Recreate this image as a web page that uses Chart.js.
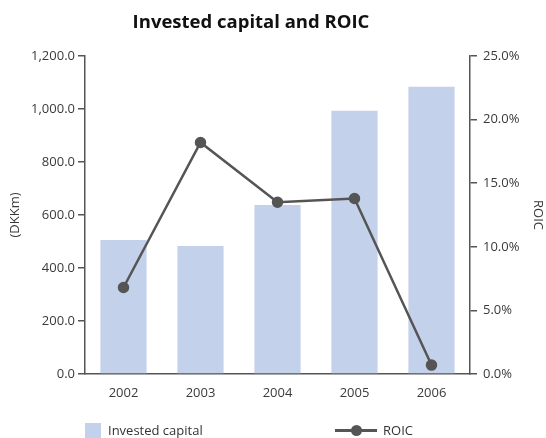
<!DOCTYPE html>
<html>
<head>
<meta charset="utf-8">
<script src="https://cdn.jsdelivr.net/npm/chart.js@4/dist/chart.umd.min.js"></script>
<style>
  html, body { margin: 0; padding: 0; background: #fff; }
  #wrap { position: relative; width: 546px; height: 438px; overflow: hidden; }
  #title { position: absolute; left: 0; top: 8px; width: 502px; text-align: center;
           font-family: "Open Sans", sans-serif; font-size: 18.5px; font-weight: bold; color: #111; }
  #legend { position: absolute; left: 0; top: 423px; width: 546px; height: 15px;
            font-family: "Open Sans", sans-serif; font-size: 13px; color: #333; }
  .item { position: absolute; top: 0; height: 15px; line-height: 15px; white-space: nowrap; }
  .box { position: absolute; left: 0; top: 0; width: 16px; height: 15px; background: #c4d1ea; }
  .line { position: absolute; left: 0; top: 6px; width: 42px; height: 3px; background: #555; }
  .dot { position: absolute; left: 16px; top: 2px; width: 11px; height: 11px; border-radius: 50%; background: #555; }
</style>
</head>
<body>
<div id="wrap">
  <canvas id="chart" width="546" height="438"></canvas>
  <div id="title">Invested capital and ROIC</div>
  <div id="legend">
    <div class="item" style="left:85px"><span class="box"></span><span style="margin-left:23px">Invested capital</span></div>
    <div class="item" style="left:335px"><span class="line"></span><span class="dot"></span><span style="margin-left:48px">ROIC</span></div>
  </div>
</div>
<script>
// Invested capital (DKKm) and return on invested capital (%)
const years = ['2002', '2003', '2004', '2005', '2006']
const investedCapital = [506, 483, 638, 993, 1084]
const roic = [6.8, 18.2, 13.5, 13.8, 0.7]

const axisColor = '#555'
const textColor = '#3a3a3a'
const font = { family: '"Open Sans", sans-serif', size: 13 }

const fmtAmount = (v) => v.toLocaleString('en-US', { minimumFractionDigits: 1, maximumFractionDigits: 1 })
const fmtPct = (v) => v.toFixed(1) + '%'

new Chart(document.getElementById('chart'), {
    type: 'bar',
    data: {
        labels: years,
        datasets: [
            {
                type: 'line',
                label: 'ROIC',
                data: roic,
                yAxisID: 'y1',
                borderColor: '#555',
                backgroundColor: '#555',
                borderWidth: 2.5,
                pointRadius: 4.5,
                pointHoverRadius: 4.5,
                tension: 0,
                order: 0,
            },
            {
                label: 'Invested capital',
                data: investedCapital,
                yAxisID: 'y',
                backgroundColor: '#c4d1ea',
                categoryPercentage: 1,
                barPercentage: 0.6,
                order: 1,
            },
        ],
    },
    options: {
        responsive: false,
        animation: false,
        layout: { padding: { top: 56 } },
        plugins: {
            legend: { display: false },
            tooltip: { enabled: false },
        },
        scales: {
            x: {
                grid: { display: false },
                border: { display: true, color: axisColor, width: 1.5 },
                ticks: { color: textColor, font: font, padding: 3 },
                afterFit: (scale) => { scale.height = 64 },
            },
            y: {
                position: 'left',
                min: 0,
                max: 1200,
                ticks: { stepSize: 200, color: textColor, font: font, padding: 3, callback: (v) => fmtAmount(v) },
                grid: { display: true, drawOnChartArea: false, drawTicks: true, tickLength: 7, color: axisColor, lineWidth: 1.5 },
                border: { display: true, color: axisColor, width: 1.5 },
                title: { display: true, text: '(DKKm)', color: textColor, font: font, padding: { top: 7 } },
                afterFit: (scale) => { scale.width = 85 },
            },
            y1: {
                position: 'right',
                min: 0,
                max: 25,
                ticks: { stepSize: 5, color: textColor, font: font, padding: 6, callback: (v) => fmtPct(v) },
                grid: { display: true, drawOnChartArea: false, drawTicks: true, tickLength: 7, color: axisColor, lineWidth: 1.5 },
                border: { display: true, color: axisColor, width: 1.5 },
                title: { display: true, text: 'ROIC', color: textColor, font: font, padding: { top: 0, bottom: 0 } },
                afterFit: (scale) => { scale.width = 76 },
            },
        },
    },
})
</script>
</body>
</html>
